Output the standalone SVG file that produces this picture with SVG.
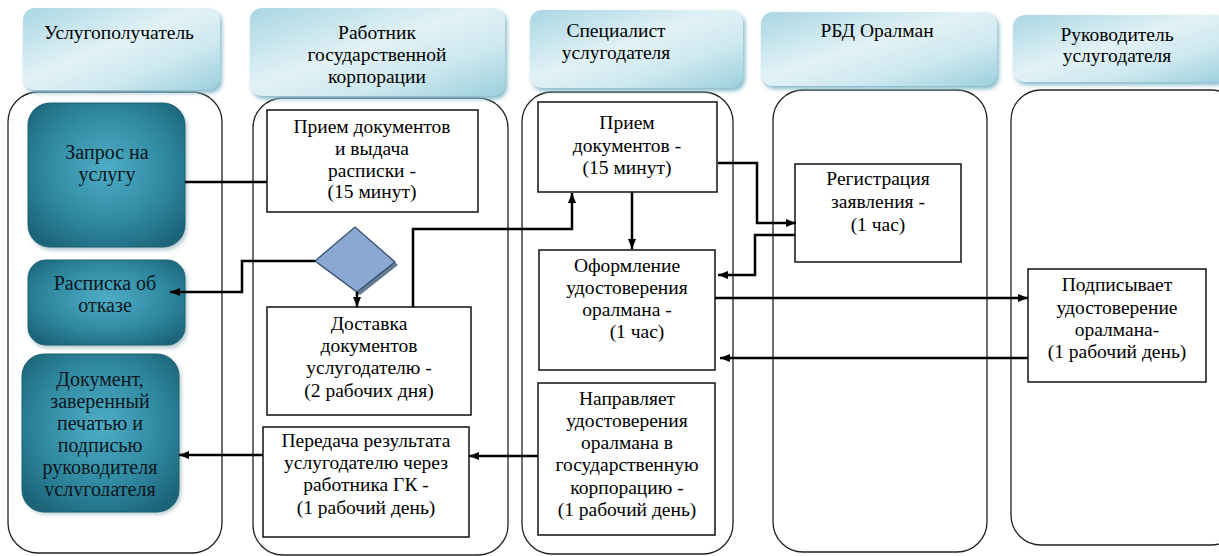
<svg xmlns="http://www.w3.org/2000/svg" width="1219" height="556" viewBox="0 0 1219 556">
<defs>
  <linearGradient id="hdr" x1="0" y1="0" x2="1" y2="1">
    <stop offset="0" stop-color="#a9d6e3"/>
    <stop offset="0.45" stop-color="#e2f2f6"/>
    <stop offset="0.7" stop-color="#cde8ef"/>
    <stop offset="1" stop-color="#9ccfdd"/>
  </linearGradient>
  <radialGradient id="teal" cx="0.5" cy="0.45" r="0.65">
    <stop offset="0" stop-color="#4eaec6"/>
    <stop offset="0.6" stop-color="#2f88a0"/>
    <stop offset="1" stop-color="#1c6478"/>
  </radialGradient>
  <filter id="blur" x="-10%" y="-10%" width="120%" height="130%">
    <feGaussianBlur stdDeviation="2"/>
  </filter>
  <marker id="arr" viewBox="0 0 10 8" refX="10" refY="4" markerWidth="10" markerHeight="8" markerUnits="userSpaceOnUse" orient="auto">
    <path d="M0,0 L10,4 L0,8 Z" fill="#000"/>
  </marker>
  <clipPath id="docclip"><rect x="22" y="354" width="158" height="142"/></clipPath>
  <style>
    .lane{fill:#fff;stroke:#222;stroke-width:1.3}
    .hdr{fill:url(#hdr)}
    .hsh{fill:#86b9ca;filter:url(#blur)}
    .teal{fill:url(#teal);stroke:#1d6073;stroke-width:1}
    .tsh{fill:#7a9ea8;filter:url(#blur);opacity:0.6}
    .box{fill:#fff;stroke:#111;stroke-width:1.5}
    text{font-family:"Liberation Serif","DejaVu Serif",serif;font-size:19.5px;fill:#000;text-anchor:middle}
    .tt{font-size:20px;fill:#0b1620}
    .conn{fill:none;stroke:#000;stroke-width:2.5}
  </style>
</defs>

<g id="lanes">
  <rect class="lane" x="8" y="92" width="214" height="461" rx="30"/>
  <rect class="lane" x="253" y="98" width="255" height="457" rx="30"/>
  <rect class="lane" x="522" y="92" width="211" height="462" rx="30"/>
  <rect class="lane" x="773" y="90" width="214" height="462" rx="30"/>
  <rect class="lane" x="1011" y="90" width="230" height="455" rx="30"/>
</g>

<g id="header-1">
  <rect class="hsh" x="25" y="11" width="197" height="82" rx="12"/>
  <rect class="hdr" x="23" y="8" width="197" height="82" rx="12"/>
  <text x="119" y="39">Услугополучатель</text>
</g>
<g id="header-2">
  <rect class="hsh" x="252" y="11" width="255" height="88" rx="12"/>
  <rect class="hdr" x="250" y="8" width="255" height="88" rx="12"/>
  <text x="377" y="39">Работник</text>
  <text x="377" y="61">государственной</text>
  <text x="377" y="83">корпорации</text>
</g>
<g id="header-3">
  <rect class="hsh" x="532" y="13" width="213" height="78" rx="12"/>
  <rect class="hdr" x="530" y="10" width="213" height="78" rx="12"/>
  <text x="616" y="37">Специалист</text>
  <text x="616" y="59">услугодателя</text>
</g>
<g id="header-4">
  <rect class="hsh" x="763" y="15" width="236" height="74" rx="12"/>
  <rect class="hdr" x="761" y="12" width="236" height="74" rx="12"/>
  <text x="877" y="37">РБД Оралман</text>
</g>
<g id="header-5">
  <rect class="hsh" x="1015" y="18" width="215" height="67" rx="12"/>
  <rect class="hdr" x="1013" y="15" width="215" height="67" rx="12"/>
  <text x="1117" y="41">Руководитель</text>
  <text x="1117" y="62">услугодателя</text>
</g>

<g id="node-zapros">
  <rect class="tsh" x="30" y="106" width="157" height="144" rx="22"/>
  <rect class="teal" x="28" y="103" width="157" height="144" rx="22"/>
  <text class="tt" x="107" y="159">Запрос на</text>
  <text class="tt" x="107" y="181">услугу</text>
</g>
<g id="node-raspiska">
  <rect class="tsh" x="30" y="263" width="157" height="85" rx="18"/>
  <rect class="teal" x="28" y="260" width="157" height="85" rx="18"/>
  <text class="tt" x="105" y="290">Расписка об</text>
  <text class="tt" x="105" y="312">отказе</text>
</g>
<g id="node-document">
  <rect class="tsh" x="24" y="357" width="157" height="157" rx="22"/>
  <rect class="teal" x="22" y="354" width="157" height="158" rx="22"/>
  <g clip-path="url(#docclip)">
    <text class="tt" x="100" y="386">Документ,</text>
    <text class="tt" x="100" y="408">заверенный</text>
    <text class="tt" x="100" y="430">печатью и</text>
    <text class="tt" x="100" y="452">подписью</text>
    <text class="tt" x="100" y="474">руководителя</text>
    <text class="tt" x="100" y="496">услугодателя</text>
  </g>
</g>

<g id="node-priem-gk">
  <rect class="box" x="267" y="110" width="211" height="102"/>
  <text x="372" y="133">Прием документов</text>
  <text x="372" y="155">и выдача</text>
  <text x="372" y="177">расписки -</text>
  <text x="372" y="198">(15 минут)</text>
</g>
<g id="node-decision">
  <polygon points="318,264 358,230 398,265 360,295" fill="#3e5a78" opacity="0.8"/>
  <polygon points="315,261 355,227 395,262 357,292" fill="#8ba8d3" stroke="#34506e" stroke-width="1.3"/>
</g>
<g id="node-dostavka">
  <rect class="box" x="267" y="307" width="204" height="108"/>
  <text x="369" y="330">Доставка</text>
  <text x="369" y="352">документов</text>
  <text x="369" y="374">услугодателю -</text>
  <text x="369" y="397">(2 рабочих дня)</text>
</g>
<g id="node-peredacha">
  <rect class="box" x="263" y="427" width="206" height="110"/>
  <text x="366" y="447">Передача результата</text>
  <text x="366" y="469">услугодателю через</text>
  <text x="366" y="491">работника ГК -</text>
  <text x="366" y="514">(1 рабочий день)</text>
</g>

<g id="node-priem-spec">
  <rect class="box" x="538" y="102" width="179" height="90"/>
  <text x="627" y="129">Прием</text>
  <text x="627" y="152">документов -</text>
  <text x="627" y="174">(15 минут)</text>
</g>
<g id="node-oformlenie">
  <rect class="box" x="539" y="250" width="176" height="120"/>
  <text x="627" y="272">Оформление</text>
  <text x="627" y="294">удостоверения</text>
  <text x="627" y="316">оралмана -</text>
  <text x="637" y="338">(1 час)</text>
</g>
<g id="node-napravlyaet">
  <rect class="box" x="538" y="383" width="177" height="152"/>
  <text x="627" y="405">Направляет</text>
  <text x="627" y="427">удостоверения</text>
  <text x="627" y="449">оралмана в</text>
  <text x="627" y="471">государственную</text>
  <text x="627" y="494">корпорацию -</text>
  <text x="627" y="516">(1 рабочий день)</text>
</g>

<g id="node-registracia">
  <rect class="box" x="795" y="164" width="166" height="98"/>
  <text x="878" y="185">Регистрация</text>
  <text x="878" y="208">заявления -</text>
  <text x="878" y="231">(1 час)</text>
</g>

<g id="node-podpisyvaet">
  <rect class="box" x="1028" y="269" width="178" height="113"/>
  <text x="1117" y="291">Подписывает</text>
  <text x="1117" y="314">удостоверение</text>
  <text x="1117" y="336">оралмана-</text>
  <text x="1117" y="358">(1 рабочий день)</text>
</g>

<g id="connectors">
  <path class="conn" d="M185,182 H267"/>
  <path class="conn" d="M315,261 H242 V292 H170" marker-end="url(#arr)"/>
  <path class="conn" d="M357,292 V307" marker-end="url(#arr)"/>
  <path class="conn" d="M413,307 V229 H572 V193" marker-end="url(#arr)"/>
  <path class="conn" d="M632,192 V249" marker-end="url(#arr)"/>
  <path class="conn" d="M718,163 H757 V223 H796" marker-end="url(#arr)"/>
  <path class="conn" d="M795,235 H755 V275 H718" marker-end="url(#arr)"/>
  <path class="conn" d="M715,298 H1028" marker-end="url(#arr)"/>
  <path class="conn" d="M1028,358 H720" marker-end="url(#arr)"/>
  <path class="conn" d="M538,456 H469" marker-end="url(#arr)"/>
  <path class="conn" d="M263,455 H179" marker-end="url(#arr)"/>
</g>
</svg>
